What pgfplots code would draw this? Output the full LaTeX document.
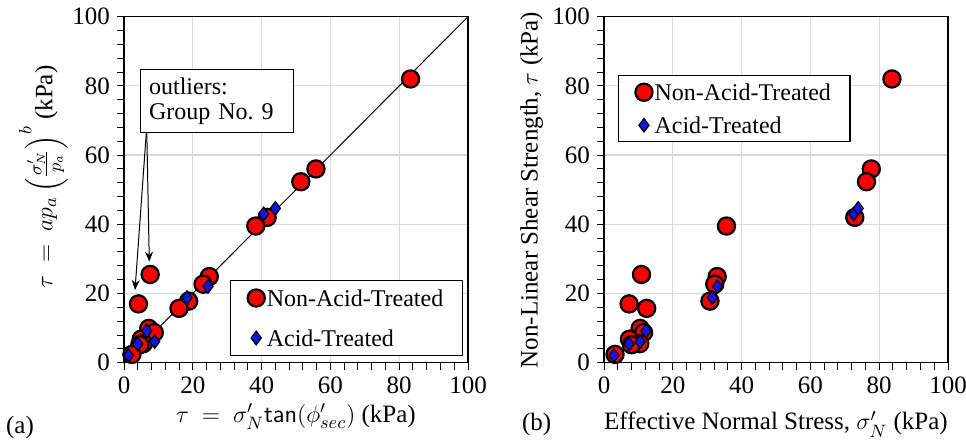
\documentclass[border=0pt]{standalone}
\usepackage{fontspec}
\setmainfont{Liberation Serif}
\usepackage{amsmath}
\usepackage{pgfplots}
\pgfplotsset{compat=1.18}
\usetikzlibrary{arrows.meta}

\definecolor{ptred}{RGB}{250,0,0}
\definecolor{ptblue}{RGB}{20,20,230}
\definecolor{gridgray}{RGB}{218,218,218}

% non-acid-treated: xl = linear tau, xr = effective normal stress, y = non-linear tau
\pgfplotstableread{
xl    xr    y
83.3  83.7  82.0
55.8  77.7  56.0
51.4  76.3  52.3
41.6  72.9  42.0
38.3  35.6  39.5
24.8  32.9  24.9
23.0  32.2  22.7
18.8  30.8  17.8
16.0  12.4  15.7
7.6   10.9  25.5
4.2   7.3   17.0
7.2   10.5  9.9
8.8   11.5  8.7
5.0   7.4   6.8
5.6   10.4  5.5
4.6   8.0   5.2
2.3   3.2   2.4
}\nat
% acid-treated
\pgfplotstableread{
xl    xr    y
1.3   2.9   2.1
4.0   7.3   5.4
8.9   10.5  6.1
6.6   12.2  9.2
18.3  31.5  18.8
24.4  33.0  22.0
40.6  72.6  43.0
44.0  73.9  44.6
}\acid

\pgfplotsset{
  shearbase/.style={
    scale only axis, width=172bp, height=173bp,
    anchor=south west,
    xmin=0, xmax=100, ymin=0, ymax=100,
    xtick={0,20,...,100}, ytick={0,20,...,100},
    minor tick num=4,
    tick align=outside, tick pos=left,
    major tick length=3.5bp, minor tick length=3.5bp,
    grid=major, major grid style={gridgray, line width=0.6bp},
    axis line style={line width=0.6bp},
    every tick/.style={black, line width=0.5bp},
    tick label style={font=\fontsize{12.5bp}{14bp}\selectfont},
    /pgf/number format/assume math mode=true,
    label style={font=\fontsize{12.5bp}{14bp}\selectfont},
    legend cell align=left,
    legend style={draw=black, line width=0.6bp, inner xsep=8.5bp,
      font=\fontsize{12bp}{14bp}\selectfont,
      nodes={inner xsep=1bp, inner ysep=2bp, text height=8.5bp, text depth=0bp}},
  },
  natmark/.style={only marks, mark=*, mark size=4.3bp,
    mark options={fill=ptred, draw=black, line width=1.1bp},
    legend image code/.code={\draw[##1] plot coordinates {(0bp,0bp)};}},
  acidmark/.style={only marks, mark=diamond*, mark size=3.4bp,
    mark options={fill=ptblue, draw=black, line width=0.6bp},
    legend image code/.code={\draw[##1] plot coordinates {(0bp,0bp)};}},
}

\begin{document}
\begin{tikzpicture}
\useasboundingbox (0,0) rectangle (483bp,221bp);

% (a) linear vs non-linear
\begin{axis}[shearbase, at={(62bp,39.65bp)},
  xlabel={$\tau\ =\ \sigma'_N\mathsf{tan}(\phi'_{sec})$ (kPa)},
  ylabel={$\tau\ =\ a p_a\left(\frac{\sigma'_N}{p_a}\right)^{b}$ (kPa)},
  xlabel style={at={(axis description cs:0.5,-0.172)}, anchor=base},
  ylabel style={at={(axis description cs:-0.208,0.537)}, anchor=base},
  legend style={at={(axis cs:98.5,1.9)}, anchor=south east, inner ysep=2.5bp, row sep=7.5bp},
]
\addplot[black, line width=0.5bp, forget plot] coordinates {(0,0) (100,100)};
\addplot[natmark] table[x=xl, y=y] {\nat};
\addlegendentry{Non-Acid-Treated}
\addplot[acidmark] table[x=xl, y=y] {\acid};
\addlegendentry{Acid-Treated}
\draw[black, line width=0.5bp, -{Stealth[length=5bp,width=4bp]}] (axis cs:6.6,68.1) -- (axis cs:3.2,21.0);
\draw[black, line width=0.5bp, -{Stealth[length=5bp,width=4bp]}] (axis cs:6.6,68.1) -- (axis cs:7.35,29.2);
\node[draw=black, line width=0.6bp, fill=white, anchor=north west, align=left,
  font=\fontsize{12bp}{12.5bp}\selectfont, inner xsep=4bp, inner ysep=4bp,
  minimum width=76.5bp, minimum height=29bp, text width=68bp]
  at (axis cs:4.65,84.8) {outliers:\\Group No.\ 9};
\end{axis}

% (b) normal stress vs non-linear
\begin{axis}[shearbase, at={(302bp,39.65bp)},
  xlabel={Effective Normal Stress, $\sigma'_N$ (kPa)},
  ylabel={Non-Linear Shear Strength, $\tau$ (kPa)},
  xlabel style={at={(axis description cs:0.5,-0.1945)}, anchor=base},
  ylabel style={at={(axis description cs:-0.193,0.499)}, anchor=base},
  legend style={at={(axis cs:4,83.1)}, anchor=north west, inner ysep=2bp, row sep=4bp},
]
\addplot[natmark] table[x=xr, y=y] {\nat};
\addlegendentry{Non-Acid-Treated}
\addplot[acidmark] table[x=xr, y=y] {\acid};
\addlegendentry{Acid-Treated}
\end{axis}

\node[font=\fontsize{12.5bp}{14bp}\selectfont, anchor=base] at (10bp,4.25bp) {(a)};
\node[font=\fontsize{12.5bp}{14bp}\selectfont, anchor=base] at (268.3bp,5.75bp) {(b)};
\end{tikzpicture}
\end{document}
